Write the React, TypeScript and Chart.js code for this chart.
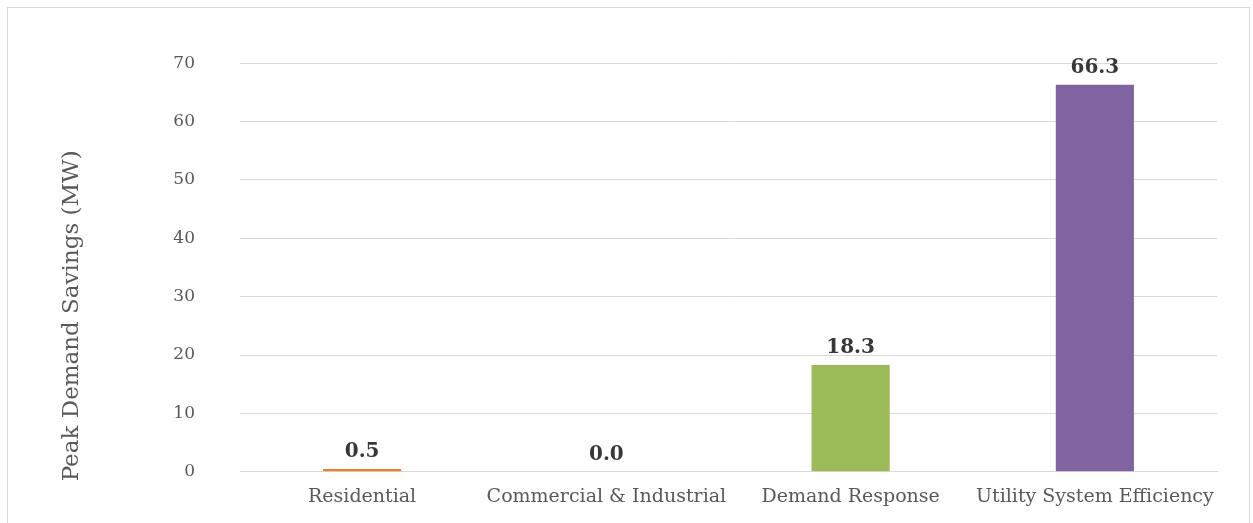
import React, { useEffect, useRef } from "react";
import { Chart, registerables } from "chart.js";

Chart.register(...registerables);

const categories = ["Residential", "Commercial & Industrial", "Demand Response", "Utility System Efficiency"];
const values = [0.5, 0.0, 18.3, 66.3];
const barColors = ["#ED7D31", "#4F81BD", "#9BBB59", "#8064A2"];
const yTitle = "Peak Demand Savings (MW)";
const FONT = "'DejaVu Serif', Georgia, serif";

const labelPlugin = {
  id: "valueLabels",
  afterDatasetsDraw(chart: any) {
    const { ctx } = chart;
    const meta = chart.getDatasetMeta(0);
    ctx.save();
    ctx.font = `bold 20px ${FONT}`;
    ctx.fillStyle = "#383838";
    ctx.textAlign = "center";
    ctx.textBaseline = "bottom";
    meta.data.forEach((bar: any, i: number) => {
      ctx.fillText(values[i].toFixed(1), bar.x, bar.y - 7);
    });
    ctx.restore();
  },
};

const yTitlePlugin = {
  id: "yTitle",
  afterDraw(chart: any) {
    const { ctx, chartArea } = chart;
    ctx.save();
    ctx.font = `23px ${FONT}`;
    ctx.fillStyle = "#595959";
    ctx.textAlign = "center";
    ctx.textBaseline = "middle";
    ctx.translate(64, chartArea.bottom - 156);
    ctx.rotate(-Math.PI / 2);
    ctx.fillText(yTitle, 0, 0);
    ctx.restore();
  },
};

export default function App() {
  const ref = useRef<HTMLCanvasElement>(null);
  useEffect(() => {
    if (!ref.current) return;
    const chart = new Chart(ref.current, {
      type: "bar",
      data: {
        labels: categories,
        datasets: [
          {
            data: values,
            backgroundColor: barColors,
            barPercentage: 0.32,
            categoryPercentage: 1,
          },
        ],
      },
      options: {
        animation: false,
        responsive: false,
        maintainAspectRatio: false,
        layout: { padding: { left: 0, right: 31, top: 55, bottom: 0 } },
        plugins: { legend: { display: false }, tooltip: { enabled: false } },
        scales: {
          x: {
            grid: { display: false, drawTicks: false },
            border: { display: true, color: "#d9d9d9", width: 1 },
            ticks: { color: "#595959", font: { family: FONT, size: 19 }, padding: 14, maxRotation: 0 },
          },
          y: {
            min: 0,
            max: 70,
            afterFit: (s: any) => {
              s.width = 232;
            },
            grid: { color: "#d9d9d9", drawTicks: false },
            border: { display: false },
            ticks: { stepSize: 10, color: "#595959", font: { family: FONT, size: 17 }, padding: 45 },
          },
        },
      },
      plugins: [labelPlugin, yTitlePlugin],
    });
    return () => chart.destroy();
  }, []);
  return (
    <div
      style={{
        position: "absolute",
        left: 7,
        top: 7,
        width: 1241,
        height: 516,
        border: "1px solid #d9d9d9",
        borderBottom: "none",
        background: "#fff",
        overflow: "hidden",
      }}
    >
      <canvas ref={ref} width={1240} height={519} style={{ display: "block" }} />
    </div>
  );
}
